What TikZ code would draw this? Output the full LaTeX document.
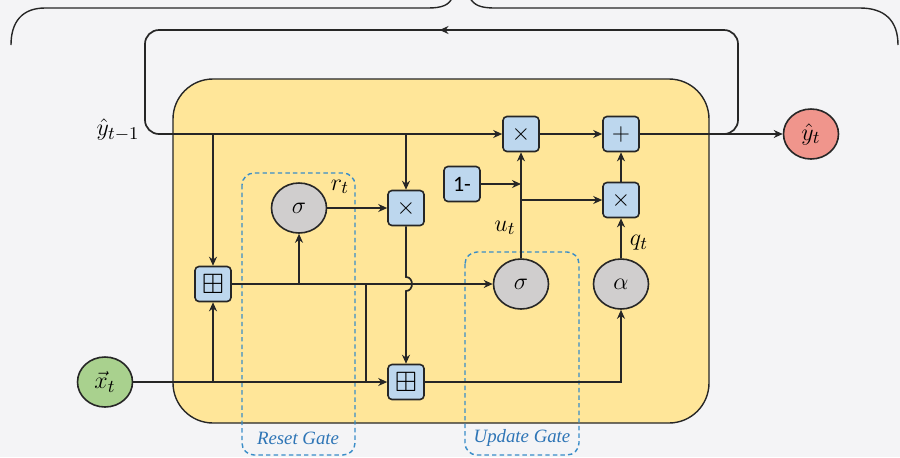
\documentclass[tikz,border=0pt]{standalone}
\usepackage{amsmath,amssymb}
\usepackage{fontspec}
\newfontfamily\carlito{Carlito}
\newfontfamily\lserif{Liberation Serif}
\usetikzlibrary{arrows.meta,decorations.markings,shapes.geometric}
\definecolor{bgc}{HTML}{F4F4F6}
\definecolor{yel}{HTML}{FFE699}
\definecolor{boxb}{HTML}{BDD7EE}
\definecolor{gryc}{HTML}{D0CECE}
\definecolor{grn}{HTML}{A9D18E}
\definecolor{redc}{HTML}{F0958C}
\definecolor{dashb}{HTML}{3A8DC8}
\definecolor{lblb}{HTML}{2E75B6}
\definecolor{edgec}{HTML}{262626}
\tikzset{
  opbox/.style={draw=edgec, line width=0.8pt, fill=boxb, rounded corners=2pt, minimum width=18pt, minimum height=17.5pt, inner sep=0pt},
  gatec/.style={ellipse, draw=edgec, line width=0.8pt, fill=gryc, minimum width=27.5pt, minimum height=25pt, inner sep=0pt, font=\fontsize{13}{15}\selectfont},
  conn/.style={line width=0.85pt, draw=edgec, -{Stealth[length=4.5pt,width=4pt]}},
  wire/.style={line width=0.85pt, draw=edgec},
  gatebox/.style={draw=dashb, line width=0.7pt, dash pattern=on 2.2pt off 1.6pt, rounded corners=6pt},
  gatelbl/.style={text=lblb, font=\lserif\itshape\fontsize{9.4}{11}\selectfont},
  mlbl/.style={font=\fontsize{13}{15}\selectfont, inner sep=0pt},
  opsym/.style={font=\fontsize{13}{15}\selectfont},
  catsym/.style={font=\fontsize{14}{16}\selectfont}
}
\begin{document}
\begin{tikzpicture}[x=0.5pt,y=-0.5pt]
\useasboundingbox (0,0) rectangle (900,457);
\fill[bgc] (0,0) rectangle (900,457);
% top brace
\draw[edgec, line width=0.7pt] (11,45) .. controls (11,22) and (22,8) .. (45,8) -- (428,8) .. controls (442,8) and (449,5) .. (452,-2);
\draw[edgec, line width=0.7pt] (470,-2) .. controls (474,5) and (480,8) .. (495,8) -- (860,8) .. controls (884,8) and (898,20) .. (898,45);
% feedback loop
\coordinate (loopR) at (722,134);
\coordinate (loopL) at (165,134);
\draw[wire, rounded corners=7pt, postaction={decorate}, decoration={markings, mark=at position 0.5 with {\arrow{Stealth[length=4.5pt,width=4pt]}}}] (loopR) -| (738,30) -| (145,134) -- (loopL);
% main cell
\draw[fill=yel, draw=edgec, line width=0.7pt, rounded corners=20pt] (173,79) rectangle (709,423);
% gate boxes
\draw[gatebox] (242,173) rectangle (355,455);
\draw[gatebox] (465,252) rectangle (579,455);
\node[gatelbl] (rg) at (298,438) {Reset Gate};
\node[gatelbl] (ug) at (522,438) {Update Gate};
% nodes
\node[opbox, opsym] (m1) at (521,134) {$\times$};
\node[opbox, opsym] (pl) at (621,134) {$+$};
\node[opbox, opsym] (m2) at (621,200) {$\times$};
\node[opbox, font=\carlito\fontsize{11}{13}\selectfont] (om) at (462,184) {1-};
\node[opbox, opsym] (m3) at (406,208) {$\times$};
\node[opbox, catsym] (c1) at (213,284) {$\boxplus$};
\node[opbox, catsym] (c2) at (406,382) {$\boxplus$};
\node[gatec] (sr) at (299,208) {$\sigma$};
\node[gatec] (su) at (521,284) {$\sigma$};
\node[gatec] (al) at (621,284) {$\alpha$};
\node[gatec, fill=grn] (x) at (105,382) {$\vec{x}_t$};
\node[gatec, fill=redc] (y) at (811,134) {$\hat{y}_t$};
\node[mlbl] (yin) at (118,130) {$\hat{y}_{t-1}$};
\node[mlbl] (rt) at (340,187) {$r_t$};
\node[mlbl] (ut) at (505,228) {$u_t$};
\node[mlbl] (qt) at (639,243) {$q_t$};
% connectors
\draw[conn] (loopL) -- (m1);
\draw[conn] (c1 |- m1) -- (c1);
\draw[conn] (m3 |- m1) -- (m3);
\draw[conn] (m1) -- (pl);
\draw[conn] (pl) -- (y);
\draw[conn] (su) -- (m1);
\draw[conn] (om) -- (om -| m1);
\draw[conn] (m2 -| m1) -- (m2);
\draw[conn] (m2) -- (pl);
\draw[conn] (al) -- (m2);
\draw[conn] (sr) -- (m3);
\draw[conn] (c1) -- (su);
\draw[conn] (sr |- c1) -- (sr);
\coordinate (jA) at (366,284);
\draw[wire] (jA) -- (jA |- x);
\draw[conn] (x) -- (c2);
\draw[conn] (c1 |- x) -- (c1);
\draw[conn] (c2) -| (al);
\draw[conn] (m3.south) -- (406,277) .. controls (414,277) and (414,291) .. (406,291) -- (c2.north);
\end{tikzpicture}
\end{document}
